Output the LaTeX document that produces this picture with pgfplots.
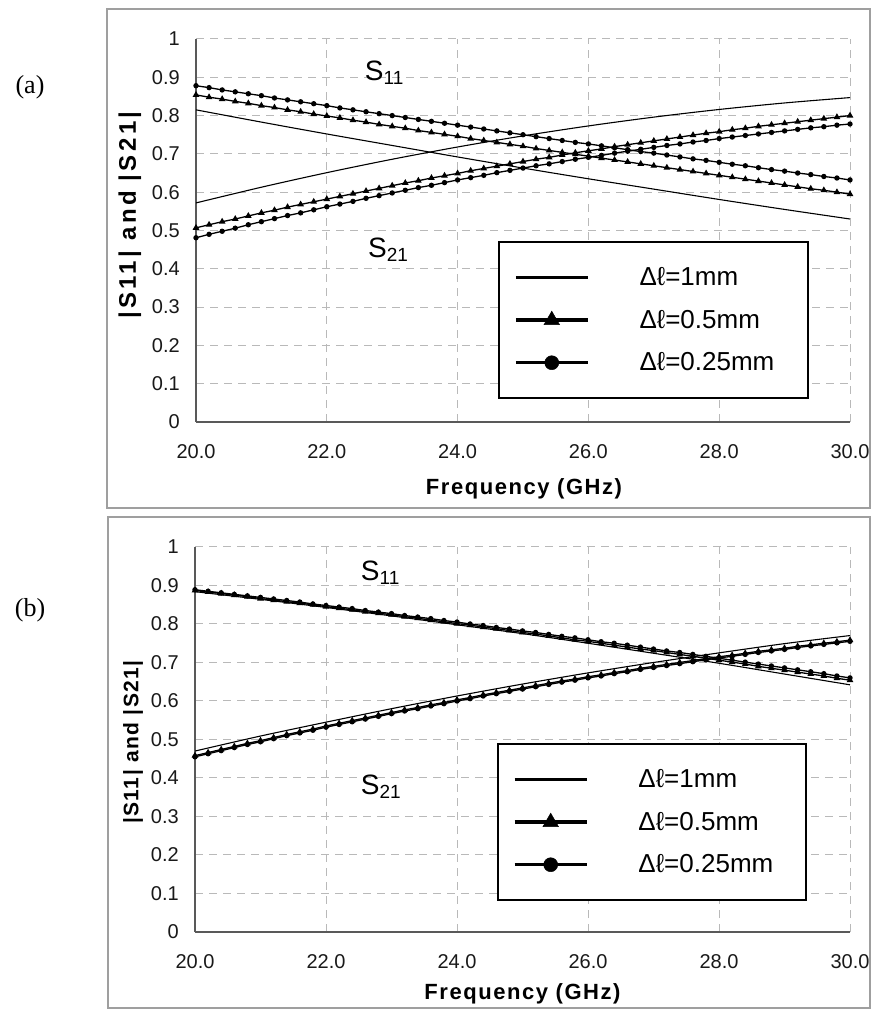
\documentclass[border=0pt]{standalone}
\usepackage{pgfplots}
\pgfplotsset{compat=1.18}
\usepackage{pgfplotstable}
\usepackage{fontspec}
\setmainfont{Liberation Sans}
\newfontfamily\panelfont{Liberation Serif}
\newfontfamily\lbla[LetterSpace=14]{Liberation Sans}
\newfontfamily\lblb[LetterSpace=7]{Liberation Sans}

% marker series, every 0.2 GHz
% c = 0.25mm (circles), t = 0.5mm (triangles)
\pgfplotstableread{
f     a11c  a11t  a21t  a21c  b11c  b11t  b21t  b21c
20.0  0.878 0.854 0.507 0.481 0.889 0.887 0.458 0.455
20.2  0.873 0.848 0.515 0.490 0.885 0.883 0.466 0.463
20.4  0.867 0.843 0.523 0.498 0.881 0.879 0.474 0.471
20.6  0.862 0.837 0.530 0.506 0.877 0.875 0.482 0.479
20.8  0.857 0.832 0.538 0.515 0.873 0.871 0.490 0.487
21.0  0.852 0.826 0.546 0.523 0.869 0.866 0.497 0.494
21.2  0.846 0.821 0.553 0.531 0.865 0.862 0.505 0.502
21.4  0.841 0.815 0.561 0.539 0.861 0.858 0.513 0.510
21.6  0.836 0.810 0.568 0.546 0.857 0.854 0.520 0.517
21.8  0.831 0.804 0.575 0.554 0.852 0.850 0.527 0.524
22.0  0.826 0.799 0.582 0.562 0.848 0.845 0.535 0.532
22.2  0.820 0.794 0.589 0.569 0.844 0.841 0.542 0.539
22.4  0.815 0.788 0.596 0.576 0.840 0.837 0.549 0.546
22.6  0.810 0.783 0.603 0.584 0.835 0.832 0.556 0.553
22.8  0.805 0.777 0.610 0.591 0.831 0.828 0.563 0.560
23.0  0.800 0.772 0.617 0.598 0.827 0.824 0.570 0.567
23.2  0.795 0.767 0.624 0.605 0.822 0.819 0.577 0.574
23.4  0.790 0.761 0.630 0.612 0.818 0.815 0.583 0.580
23.6  0.785 0.756 0.637 0.618 0.814 0.810 0.590 0.587
23.8  0.780 0.751 0.643 0.625 0.809 0.806 0.596 0.593
24.0  0.775 0.746 0.649 0.632 0.805 0.801 0.603 0.600
24.2  0.770 0.740 0.656 0.638 0.800 0.797 0.609 0.606
24.4  0.765 0.735 0.662 0.644 0.796 0.792 0.616 0.613
24.6  0.760 0.730 0.668 0.651 0.791 0.788 0.622 0.619
24.8  0.755 0.725 0.674 0.657 0.787 0.783 0.628 0.625
25.0  0.750 0.720 0.680 0.663 0.782 0.778 0.634 0.631
25.2  0.745 0.714 0.686 0.669 0.778 0.774 0.640 0.637
25.4  0.740 0.709 0.691 0.674 0.773 0.769 0.646 0.643
25.6  0.735 0.704 0.697 0.680 0.768 0.764 0.652 0.649
25.8  0.730 0.699 0.703 0.686 0.764 0.759 0.657 0.654
26.0  0.726 0.694 0.708 0.691 0.759 0.755 0.663 0.660
26.2  0.721 0.689 0.713 0.696 0.754 0.750 0.668 0.665
26.4  0.716 0.684 0.719 0.702 0.750 0.745 0.674 0.671
26.6  0.711 0.679 0.724 0.707 0.745 0.740 0.679 0.676
26.8  0.706 0.674 0.729 0.712 0.740 0.735 0.685 0.682
27.0  0.702 0.669 0.734 0.717 0.735 0.731 0.690 0.687
27.2  0.697 0.664 0.739 0.722 0.730 0.726 0.695 0.692
27.4  0.692 0.659 0.744 0.726 0.726 0.721 0.700 0.697
27.6  0.687 0.654 0.749 0.731 0.721 0.716 0.705 0.702
27.8  0.683 0.649 0.754 0.735 0.716 0.711 0.710 0.707
28.0  0.678 0.644 0.758 0.740 0.711 0.706 0.715 0.712
28.2  0.673 0.639 0.763 0.744 0.706 0.701 0.719 0.716
28.4  0.669 0.634 0.767 0.748 0.701 0.696 0.724 0.721
28.6  0.664 0.629 0.772 0.752 0.696 0.690 0.729 0.726
28.8  0.659 0.624 0.776 0.756 0.691 0.685 0.733 0.730
29.0  0.655 0.619 0.780 0.760 0.686 0.680 0.737 0.734
29.2  0.650 0.614 0.784 0.764 0.681 0.675 0.742 0.739
29.4  0.646 0.609 0.788 0.768 0.676 0.670 0.746 0.743
29.6  0.641 0.605 0.792 0.771 0.671 0.665 0.750 0.747
29.8  0.637 0.600 0.796 0.775 0.665 0.659 0.754 0.751
30.0  0.632 0.595 0.800 0.778 0.660 0.654 0.758 0.755
}\markdata

% 1mm curves (no markers)
\pgfplotstableread{
f   a11   a21   b11   b21
20  0.815 0.572 0.884 0.470
21  0.783 0.613 0.864 0.509
22  0.752 0.651 0.843 0.545
23  0.722 0.686 0.821 0.580
24  0.692 0.718 0.798 0.613
25  0.663 0.747 0.775 0.644
26  0.635 0.773 0.750 0.673
27  0.608 0.796 0.724 0.700
28  0.581 0.816 0.698 0.725
29  0.555 0.833 0.670 0.749
30  0.530 0.847 0.642 0.770
}\plaindata

\pgfplotsset{
  sparam/.style={
    scale only axis,
    xmin=20, xmax=30, ymin=0, ymax=1,
    xtick={20,22,24,26,28,30},
    ytick={0,0.1,0.2,0.3,0.4,0.5,0.6,0.7,0.8,0.9,1},
    /pgf/number format/assume math mode=true,
    tick label style={font=\fontsize{20}{20}\selectfont, text=black!90, inner sep=0pt},
    x tick label style={anchor=center, yshift=-30pt,
      /pgf/number format/fixed, /pgf/number format/fixed zerofill,
      /pgf/number format/precision=1},
    y tick label style={anchor=east, xshift=-16pt},
    major tick length=0pt,
    grid=major,
    major grid style={gray!55, line width=1pt, dash pattern=on 8pt off 6pt},
    axis x line*=bottom, axis y line*=left,
    axis line style={-, black!65, line width=1.2pt},
    legend image code/.code={
      \draw[mark repeat=2, mark phase=2, #1] plot coordinates {(0pt,0pt) (36pt,0pt) (72pt,0pt)};
    },
    legend style={anchor=north west, draw=black, line width=2pt, fill=white,
      inner xsep=15pt, inner ysep=26pt, row sep=23pt, column sep=50pt,
      font=\fontsize{26}{26}\selectfont,
      nodes={inner sep=0pt},
      cells={anchor=west},
      /tikz/every even column/.append style={text width=153pt, text height=18pt, text depth=0pt}},
  },
  plainl/.style={black, line width=1.1pt, smooth},
  circl/.style={black, line width=1.3pt, mark=*, mark size=2pt},
  tril/.style={black, line width=1.3pt, mark=triangle*, mark size=2.6pt},
  lg1/.style={black, line width=3.5pt},
  lg2/.style={black, line width=3.5pt, mark=triangle*, mark size=9pt, mark options={line width=0.5pt}},
  lg3/.style={black, line width=3.5pt, mark=*, mark size=7pt, mark options={line width=0.5pt}},
}

\begin{document}
\begin{tikzpicture}
\useasboundingbox (0,0) rectangle (872pt,1012pt);
\fill[white] (0,0) rectangle (872pt,1012pt);
% chart frames
\draw[gray!75, line width=1.5pt] (107pt,504pt) rectangle (870pt,1003pt);
\draw[gray!75, line width=1.5pt] (108pt,4pt) rectangle (870pt,495pt);
\node[font=\panelfont\fontsize{26}{26}\selectfont] at (30pt,925pt) {(a)};
\node[font=\panelfont\fontsize{26}{26}\selectfont] at (30pt,402pt) {(b)};

% ---------- (a)
\begin{axis}[sparam,
  at={(196pt,590pt)}, anchor=south west, width=654pt, height=383pt,
  xlabel={Frequency (GHz)},
  ylabel={|S11| and |S21|},
  xlabel style={font=\lblb\bfseries\fontsize{22}{22}\selectfont, at={(axis description cs:0.5015,-0.175)}, anchor=center},
  ylabel style={font=\lbla\bfseries\fontsize{24}{24}\selectfont, at={(axis description cs:-0.101,0.54)}, anchor=center},
  legend style={at={(0.4618,0.4726)}},
]
\addplot[plainl, forget plot] table[x=f, y=a11] {\plaindata};
\addplot[plainl, forget plot] table[x=f, y=a21] {\plaindata};
\addplot[tril, forget plot] table[x=f, y=a11t] {\markdata};
\addplot[circl, forget plot] table[x=f, y=a11c] {\markdata};
\addplot[tril, forget plot] table[x=f, y=a21t] {\markdata};
\addplot[circl, forget plot] table[x=f, y=a21c] {\markdata};
\addlegendimage{lg1}\addlegendentry{Δℓ=1mm}
\addlegendimage{lg2}\addlegendentry{Δℓ=0.5mm}
\addlegendimage{lg3}\addlegendentry{Δℓ=0.25mm}
\node[anchor=base west, inner sep=0pt, font=\fontsize{28}{28}\selectfont] at (axis cs:22.58,0.891) {S\raisebox{-4pt}{\fontsize{19}{19}\selectfont 11}};
\node[anchor=base west, inner sep=0pt, font=\fontsize{28}{28}\selectfont] at (axis cs:22.63,0.429) {S\raisebox{-4pt}{\fontsize{19}{19}\selectfont 21}};
\end{axis}

% ---------- (b)
\begin{axis}[sparam,
  at={(195pt,80pt)}, anchor=south west, width=655pt, height=385pt,
  xlabel={Frequency (GHz)},
  ylabel={|S11| and |S21|},
  xlabel style={font=\lblb\bfseries\fontsize{22}{22}\selectfont, at={(axis description cs:0.5,-0.161)}, anchor=center},
  ylabel style={font=\lblb\bfseries\fontsize{21}{21}\selectfont, at={(axis description cs:-0.0947,0.4935)}, anchor=center},
  legend style={at={(0.461,0.491)}},
]
\addplot[plainl, forget plot] table[x=f, y=b11] {\plaindata};
\addplot[plainl, forget plot] table[x=f, y=b21] {\plaindata};
\addplot[tril, forget plot] table[x=f, y=b11t] {\markdata};
\addplot[circl, forget plot] table[x=f, y=b11c] {\markdata};
\addplot[tril, forget plot] table[x=f, y=b21t] {\markdata};
\addplot[circl, forget plot] table[x=f, y=b21c] {\markdata};
\addlegendimage{lg1}\addlegendentry{Δℓ=1mm}
\addlegendimage{lg2}\addlegendentry{Δℓ=0.5mm}
\addlegendimage{lg3}\addlegendentry{Δℓ=0.25mm}
\node[anchor=base west, inner sep=0pt, font=\fontsize{28}{28}\selectfont] at (axis cs:22.53,0.914) {S\raisebox{-4pt}{\fontsize{19}{19}\selectfont 11}};
\node[anchor=base west, inner sep=0pt, font=\fontsize{28}{28}\selectfont] at (axis cs:22.53,0.356) {S\raisebox{-4pt}{\fontsize{19}{19}\selectfont 21}};
\end{axis}
\end{tikzpicture}
\end{document}
